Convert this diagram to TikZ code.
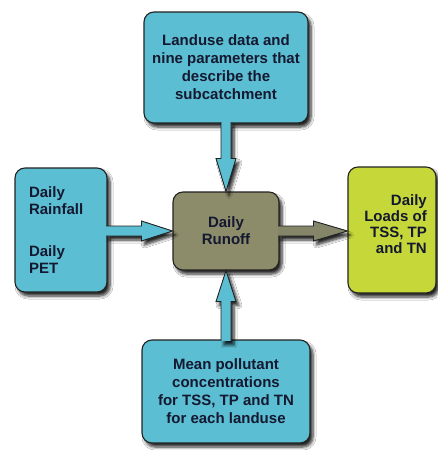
\documentclass[tikz,border=0pt]{standalone}
\usepackage{fontspec}
\setmainfont{Liberation Sans}
\usetikzlibrary{calc,shadows.blur}
\definecolor{cyanbox}{HTML}{5CBED2}
\definecolor{olivebox}{HTML}{8C8B6A}
\definecolor{olivearrow}{HTML}{85856A}
\definecolor{greenbox}{HTML}{C6D839}
\definecolor{edgecol}{HTML}{222222}
\definecolor{txtcol}{HTML}{141830}
\tikzset{
  myshadow/.style={blur shadow={shadow xshift=3pt,shadow yshift=-4pt,shadow blur radius=3pt,shadow blur steps=6,shadow opacity=85}},
  box/.style={draw=edgecol, line width=1.1pt, rounded corners=10pt, inner sep=0pt,
    text=txtcol, font=\bfseries\fontsize{15}{18}\selectfont, myshadow},
  boxtext/.style={inner sep=0pt, text=txtcol, font=\bfseries\fontsize{15}{16}\selectfont},
  arrowedge/.style={draw=edgecol, line width=0.9pt, line join=miter},
}
\newcommand\blockarrow[4]{%
  \path (#1) coordinate (ba-s) (#2) coordinate (ba-e);
  \path ($(ba-e)!#4!(ba-s)$) coordinate (ba-h);
  \fill[#3, myshadow] ($(ba-s)!5pt!90:(ba-e)$) -- ($(ba-h)!5pt!90:(ba-e)$) -- ($(ba-h)!10pt!90:(ba-e)$) -- (ba-e)
     -- ($(ba-h)!10pt!-90:(ba-e)$) -- ($(ba-h)!5pt!-90:(ba-e)$) -- ($(ba-s)!5pt!-90:(ba-e)$) -- cycle;
  \draw[arrowedge] ($(ba-s)!5pt!90:(ba-e)$) -- ($(ba-h)!5pt!90:(ba-e)$) -- ($(ba-h)!10pt!90:(ba-e)$) -- (ba-e)
     -- ($(ba-h)!10pt!-90:(ba-e)$) -- ($(ba-h)!5pt!-90:(ba-e)$) -- ($(ba-s)!5pt!-90:(ba-e)$);
}
\begin{document}
\begin{tikzpicture}[x=1pt,y=-1pt]
\useasboundingbox[fill=white] (0,0) rectangle (437,450);

\node[box, fill=cyanbox, minimum width=164pt, minimum height=111pt, align=center]
  (top) at (226,67.5) {Landuse data and\\nine parameters that\\describe the\\subcatchment};

\node[box, fill=cyanbox, minimum width=92pt, minimum height=124pt, text width=64pt, align=left,
  font=\bfseries\fontsize{15}{17}\selectfont]
  (left) at (61,230) {Daily\\Rainfall\\[25pt]Daily\\PET};

\node[box, fill=olivebox, minimum width=106pt, minimum height=78pt, align=center,
  font=\bfseries\fontsize{15}{17}\selectfont]
  (ctr) at (226,231) {Daily\\Runoff};

\node[box, fill=greenbox, minimum width=88pt, minimum height=126pt] (right) at (392,230) {};
\node[boxtext, anchor=east, align=right] (righttext) at (427,224) {Daily\\Loads of\\TSS, TP\\and TN};

\node[box, fill=cyanbox, minimum width=168pt, minimum height=103pt, align=center]
  (bot) at (226,391.5) {Mean pollutant\\concentrations\\for TSS, TP and TN\\for each landuse};

\blockarrow{[yshift=1.5pt]top.south}{ctr.north}{cyanbox}{33pt}
\blockarrow{[xshift=-1.5pt]left.east |- ctr.west}{ctr.west}{cyanbox}{31pt}
\blockarrow{[xshift=-1.5pt]ctr.east}{right.west |- ctr.east}{olivearrow}{34pt}
\blockarrow{[yshift=-1.5pt]bot.north}{ctr.south}{cyanbox}{31pt}
\end{tikzpicture}
\end{document}
